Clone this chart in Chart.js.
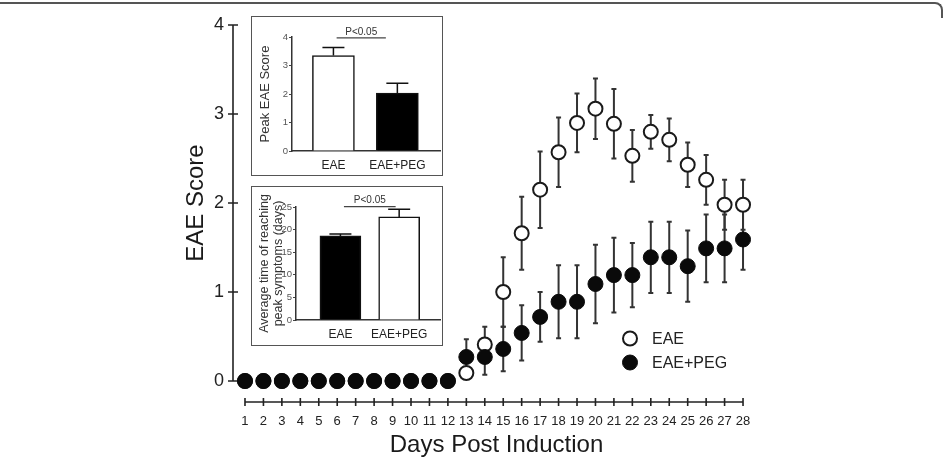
<!DOCTYPE html>
<html>
<head>
<meta charset="utf-8">
<title>EAE score</title>
<script src="https://cdn.jsdelivr.net/npm/chart.js@4.4.1/dist/chart.umd.min.js"></script>
<style>
  html, body { margin: 0; padding: 0; background: #fff; }
  #wrap { position: relative; width: 947px; height: 462px; overflow: hidden; }
  #frame { position: absolute; left: -4px; top: 2px; width: 945px; height: 14px;
           border-top: 2px solid #555; border-right: 2px solid #555; border-top-right-radius: 8px; }
  #main { position: absolute; left: 0; top: 0; }
  .inset { position: absolute; width: 190px; height: 158px; border: 1.5px solid #555; background: #fff; }
  .inset canvas { display: block; }
</style>
</head>
<body>
<div id="wrap">
  <div id="frame"></div>
  <canvas id="main" width="947" height="462"></canvas>
  <div class="inset" style="left:251px; top:16px"><canvas id="peak" width="190" height="158"></canvas></div>
  <div class="inset" style="left:251px; top:186px"><canvas id="time" width="190" height="158"></canvas></div>
</div>
<script>
// --- donnees du graphique principal ---
const days = [1, 2, 3, 4, 5, 6, 7, 8, 9, 10, 11, 12, 13, 14, 15, 16, 17, 18, 19, 20, 21, 22, 23, 24, 25, 26, 27, 28];
const dayLabels = ['1', '2', '3', '4', '5', '6', '7', '8', '9', '10', '11', '12', '13', '14',
                   '15', '16', '17', '18', '19', '20', '21', '22', '23', '24', '25', '26', '27', '28'];
const yTicks = [0, 1, 2, 3, 4];

const eaeMean = [0, 0, 0, 0, 0, 0, 0, 0, 0, 0, 0, 0,
                 0.09, 0.41, 1.00, 1.66, 2.15, 2.57, 2.90, 3.06, 2.89, 2.53, 2.80, 2.71, 2.43, 2.26, 1.98, 1.98];
const eaeSem  = [0, 0, 0, 0, 0, 0, 0, 0, 0, 0, 0, 0,
                 0, 0.20, 0.39, 0.41, 0.43, 0.39, 0.33, 0.34, 0.39, 0.29, 0.19, 0.24, 0.25, 0.28, 0.28, 0.28];
const pegMean = [0, 0, 0, 0, 0, 0, 0, 0, 0, 0, 0, 0,
                 0.27, 0.27, 0.36, 0.54, 0.72, 0.89, 0.89, 1.09, 1.19, 1.19, 1.39, 1.39, 1.29, 1.49, 1.49, 1.59];
const pegSem  = [0, 0, 0, 0, 0, 0, 0, 0, 0, 0, 0, 0,
                 0.20, 0.20, 0.25, 0.31, 0.28, 0.41, 0.41, 0.44, 0.42, 0.36, 0.40, 0.40, 0.40, 0.38, 0.38, 0.34];

// --- donnees des encarts ---
const groups = ['EAE', 'EAE+PEG'];
const peakMean = [3.35, 2.03];
const peakSem = [0.28, 0.35];
const peakTicks = [0, 1, 2, 3, 4];
const timeMean = [18.6, 22.8];
const timeSem = [0.45, 1.7];
const timeTicks = [0, 5, 10, 15, 20, 25];

const FONT = '"Liberation Sans", Arial, Helvetica, sans-serif';
Chart.defaults.font.family = FONT;
Chart.defaults.color = '#222';

// Barres d'erreur (moyenne +/- SEM), dessinees avant les points
const errorBars = {
  id: 'errorBars',
  beforeDatasetsDraw(chart) {
    const { ctx } = chart;
    const x = chart.scales.x, y = chart.scales.y;
    ctx.save();
    ctx.strokeStyle = '#333';
    ctx.lineWidth = 2;
    chart.data.datasets.forEach(ds => {
      ds.data.forEach((p, i) => {
        const e = ds.sem[i];
        if (!e) return;
        const px = x.getPixelForValue(p.x);
        const top = y.getPixelForValue(p.y + e);
        const bot = y.getPixelForValue(Math.max(0, p.y - e));
        ctx.beginPath();
        ctx.moveTo(px, top); ctx.lineTo(px, bot);
        ctx.moveTo(px - 2.5, top); ctx.lineTo(px + 2.5, top);
        ctx.moveTo(px - 2.5, bot); ctx.lineTo(px + 2.5, bot);
        ctx.stroke();
      });
    });
    ctx.restore();
  }
};

// Axes style GraphPad : axe Y de 0 a 4, axe X decale sous le zero
const prismAxes = {
  id: 'prismAxes',
  beforeDatasetsDraw(chart) {
    const { ctx, chartArea } = chart;
    const x = chart.scales.x, y = chart.scales.y;
    const ax = chartArea.left;
    const ay = chartArea.bottom + 21;
    ctx.save();
    ctx.strokeStyle = '#222';
    ctx.lineWidth = 1.6;
    ctx.beginPath();
    ctx.moveTo(ax, y.getPixelForValue(yTicks[yTicks.length - 1]));
    ctx.lineTo(ax, y.getPixelForValue(yTicks[0]));
    yTicks.forEach(v => {
      const py = y.getPixelForValue(v);
      ctx.moveTo(ax - 5, py); ctx.lineTo(ax + 5, py);
    });
    ctx.moveTo(x.getPixelForValue(days[0]), ay);
    ctx.lineTo(x.getPixelForValue(days[days.length - 1]), ay);
    days.forEach(d => {
      const px = x.getPixelForValue(d);
      ctx.moveTo(px, ay - 4); ctx.lineTo(px, ay + 4);
    });
    ctx.stroke();
    ctx.restore();
  }
};

// Legende dans la zone de trace
const pointLegend = {
  id: 'pointLegend',
  afterDraw(chart, args, opts) {
    const { ctx } = chart;
    ctx.save();
    ctx.font = '16px ' + FONT;
    ctx.textBaseline = 'middle';
    chart.data.datasets.forEach((ds, i) => {
      const cy = opts.y + i * opts.gap;
      ctx.beginPath();
      ctx.arc(opts.x, cy, ds.pointRadius, 0, Math.PI * 2);
      ctx.fillStyle = ds.pointBackgroundColor;
      ctx.fill();
      ctx.lineWidth = ds.pointBorderWidth;
      ctx.strokeStyle = ds.pointBorderColor;
      ctx.stroke();
      ctx.fillStyle = '#222';
      ctx.fillText(ds.label, opts.x + 22, cy + 1);
    });
    ctx.restore();
  }
};

new Chart(document.getElementById('main'), {
  type: 'line',
  data: {
    datasets: [{
      label: 'EAE',
      data: days.map((d, i) => ({ x: d, y: eaeMean[i] })),
      sem: eaeSem,
      showLine: false,
      pointRadius: 7,
      pointBorderWidth: 2,
      pointBackgroundColor: '#fff',
      pointBorderColor: '#1a1a1a',
      clip: false,
      order: 2
    }, {
      label: 'EAE+PEG',
      data: days.map((d, i) => ({ x: d, y: pegMean[i] })),
      sem: pegSem,
      showLine: false,
      pointRadius: 7.5,
      pointBorderWidth: 1,
      pointBackgroundColor: '#0a0a0a',
      pointBorderColor: '#0a0a0a',
      clip: false,
      order: 1
    }]
  },
  options: {
    responsive: false,
    animation: false,
    events: [],
    layout: { padding: { left: 170, right: 187, top: 25, bottom: 0 } },
    plugins: {
      legend: { display: false },
      tooltip: { enabled: false },
      pointLegend: { x: 630, y: 338.5, gap: 24 }
    },
    scales: {
      x: {
        type: 'linear',
        min: 0.35,
        max: 28.92,
        grid: { display: false, drawTicks: false },
        border: { display: false },
        afterBuildTicks: s => { s.ticks = days.map(d => ({ value: d })); },
        afterFit: s => { s.height = 81; },
        ticks: {
          autoSkip: false,
          maxRotation: 0,
          padding: 33,
          font: { size: 13 },
          color: '#222',
          callback: v => dayLabels[days.indexOf(v)]
        },
        title: {
          display: true,
          text: 'Days Post Induction',
          font: { size: 24 },
          color: '#1a1a1a',
          padding: { top: 0, bottom: 2 }
        }
      },
      y: {
        min: 0,
        max: 4,
        grid: { display: false, drawTicks: false },
        border: { display: false },
        afterBuildTicks: s => { s.ticks = yTicks.map(v => ({ value: v })); },
        afterFit: s => { s.width = 63; },
        ticks: { padding: 9, font: { size: 18 }, color: '#222' },
        title: {
          display: true,
          text: 'EAE Score',
          font: { size: 24 },
          color: '#1a1a1a',
          padding: { top: 12, bottom: 0 }
        }
      }
    }
  },
  plugins: [prismAxes, errorBars, pointLegend]
});

// --- encarts (histogrammes) ---
const insetBars = {
  id: 'insetBars',
  afterDatasetsDraw(chart, args, opts) {
    const { ctx } = chart;
    const x = chart.scales.x, y = chart.scales.y;
    const ds = chart.data.datasets[0];
    ctx.save();
    ctx.strokeStyle = '#111';
    ctx.lineWidth = 1.5;
    ctx.beginPath();
    ds.data.forEach((p, i) => {
      const px = x.getPixelForValue(p.x);
      const top = y.getPixelForValue(p.y + ds.sem[i]);
      ctx.moveTo(px, y.getPixelForValue(p.y)); ctx.lineTo(px, top);
      ctx.moveTo(px - 11, top); ctx.lineTo(px + 11, top);
    });
    ctx.stroke();
    // trait de significativite
    const ly = y.getPixelForValue(opts.level);
    const x1 = x.getPixelForValue(opts.from), x2 = x.getPixelForValue(opts.to);
    ctx.strokeStyle = '#444';
    ctx.lineWidth = 1.2;
    ctx.beginPath();
    ctx.moveTo(x1, ly); ctx.lineTo(x2, ly);
    ctx.stroke();
    ctx.fillStyle = '#333';
    ctx.font = '10px ' + FONT;
    ctx.textAlign = 'center';
    ctx.textBaseline = 'bottom';
    ctx.fillText(opts.text, (x1 + x2) / 2, ly - 1);
    ctx.restore();
  }
};

function makeInset(id, means, sems, colors, ticks, title, cfg) {
  return new Chart(document.getElementById(id), {
    type: 'bar',
    data: {
      datasets: [{
        data: means.map((m, i) => ({ x: i + 1, y: m })),
        sem: sems,
        backgroundColor: colors,
        borderColor: '#111',
        borderWidth: 1.5,
        barThickness: cfg.barWidth
      }]
    },
    options: {
      responsive: false,
      animation: false,
      events: [],
      layout: { padding: { left: 0, right: 2, top: 20, bottom: 0 } },
      plugins: {
        legend: { display: false },
        tooltip: { enabled: false },
        insetBars: cfg.sig
      },
      scales: {
        x: {
          type: 'linear',
          offset: false,
          min: cfg.xMin,
          max: cfg.xMax,
          grid: { display: false, drawTicks: false, offset: false },
          border: { display: true, color: '#333', width: 1.5 },
          afterBuildTicks: s => { s.ticks = groups.map((g, i) => ({ value: i + 1 })); },
          afterFit: s => { s.height = cfg.xHeight; },
          ticks: {
            autoSkip: false,
            maxRotation: 0,
            padding: 7,
            font: { size: 12 },
            color: '#222',
            callback: v => groups[v - 1]
          }
        },
        y: {
          min: ticks[0],
          max: ticks[ticks.length - 1],
          grid: { display: true, drawOnChartArea: false, drawTicks: true, tickLength: 3, color: '#444' },
          border: { display: true, color: '#333', width: 1.5 },
          afterBuildTicks: s => { s.ticks = ticks.map(v => ({ value: v })); },
          afterFit: s => { s.width = cfg.yWidth; },
          ticks: { padding: 1, font: { size: 9.5 }, color: '#555' },
          title: {
            display: true,
            text: title,
            font: { size: cfg.titleSize, lineHeight: cfg.titleLine },
            color: '#333',
            padding: { top: cfg.titlePad, bottom: 0 }
          }
        }
      }
    },
    plugins: [insetBars]
  });
}

makeInset('peak', peakMean, peakSem, ['#fff', '#000'], peakTicks, 'Peak EAE Score', {
  barWidth: 42, xMin: 0.352, xMax: 2.667, xHeight: 24, yWidth: 40,
  titleSize: 13, titleLine: 1.2, titlePad: 6,
  sig: { from: 1.05, to: 1.82, level: 3.97, text: 'P<0.05' }
});

makeInset('time', timeMean, timeSem, ['#000', '#fff'], timeTicks,
  ['Average time of reaching', 'peak symptoms (days)'], {
  barWidth: 41, xMin: 0.244, xMax: 2.695, xHeight: 25, yWidth: 44,
  titleSize: 12.5, titleLine: 1.12, titlePad: 6,
  sig: { from: 1.06, to: 1.94, level: 25.1, text: 'P<0.05' }
});
</script>
</body>
</html>
